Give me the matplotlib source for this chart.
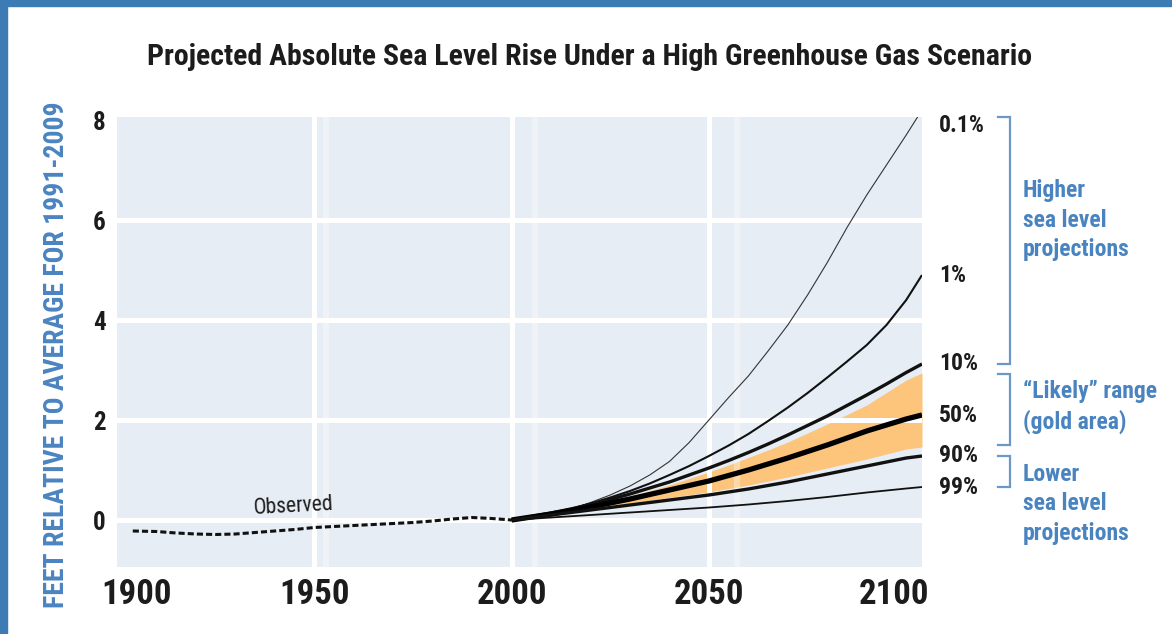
import matplotlib
matplotlib.use("Agg")
import matplotlib.pyplot as plt
import matplotlib.font_manager as fm
from matplotlib.transforms import blended_transform_factory, ScaledTranslation

# ---------------- data ----------------
obs_years = [1904, 1910, 1915, 1920, 1925, 1930, 1935, 1940, 1945, 1950, 1955,
             1960, 1965, 1970, 1975, 1980, 1985, 1990, 1995, 2000]
obs_feet = [-0.22, -0.23, -0.26, -0.28, -0.29, -0.28, -0.25, -0.22, -0.19, -0.15, -0.13,
            -0.11, -0.09, -0.07, -0.05, -0.02, 0.02, 0.05, 0.03, 0.0]

proj_years = [2000, 2005, 2010, 2015, 2020, 2025, 2030, 2035, 2040, 2045, 2050,
              2055, 2060, 2065, 2070, 2075, 2080, 2085, 2090, 2095, 2100, 2104]
p0_1 = [0, 0.05, 0.12, 0.22, 0.35, 0.5, 0.68, 0.9, 1.17, 1.55, 2.0,
        2.45, 2.88, 3.38, 3.9, 4.5, 5.15, 5.85, 6.5, 7.1, 7.7, 8.2]
p1 = [0, 0.06, 0.13, 0.22, 0.33, 0.45, 0.58, 0.73, 0.9, 1.08, 1.28,
      1.49, 1.72, 1.98, 2.25, 2.54, 2.85, 3.17, 3.5, 3.9, 4.4, 4.9]
p10 = [0, 0.07, 0.14, 0.22, 0.31, 0.41, 0.52, 0.64, 0.76, 0.9, 1.04,
       1.19, 1.35, 1.52, 1.7, 1.89, 2.08, 2.29, 2.5, 2.72, 2.95, 3.12]
p50 = [0, 0.06, 0.12, 0.19, 0.26, 0.34, 0.42, 0.51, 0.6, 0.69, 0.78,
       0.89, 1.0, 1.12, 1.24, 1.37, 1.5, 1.64, 1.78, 1.9, 2.02, 2.1]
p90 = [0, 0.05, 0.1, 0.15, 0.2, 0.25, 0.3, 0.35, 0.4, 0.45, 0.5,
       0.56, 0.62, 0.69, 0.76, 0.84, 0.92, 1.0, 1.08, 1.16, 1.24, 1.28]
p99 = [0, 0.025, 0.05, 0.075, 0.1, 0.125, 0.15, 0.175, 0.2, 0.225, 0.25,
       0.28, 0.31, 0.345, 0.38, 0.42, 0.46, 0.505, 0.55, 0.59, 0.63, 0.66]
likely_hi = [0, 0.065, 0.13, 0.21, 0.29, 0.38, 0.48, 0.59, 0.7, 0.83, 0.96,
             1.1, 1.25, 1.4, 1.56, 1.74, 1.92, 2.11, 2.3, 2.55, 2.8, 2.94]
likely_lo = [0, 0.05, 0.1, 0.16, 0.22, 0.28, 0.34, 0.395, 0.45, 0.505, 0.56,
             0.63, 0.7, 0.78, 0.86, 0.95, 1.04, 1.13, 1.22, 1.32, 1.42, 1.46]

series_labels = ["0.1%", "1%", "10%", "50%", "90%", "99%"]
x_ticks = [1900, 1950, 2000, 2050, 2100]
y_ticks = [0, 2, 4, 6, 8]

# ---------------- fonts ----------------
names = {f.name for f in fm.fontManager.ttflist}
FONT = "DejaVu Sans"
for cand in ["Roboto Condensed", "Liberation Sans Narrow", "Open Sans Condensed"]:
    if cand in names:
        FONT = cand
        break
plt.rcParams["font.family"] = [FONT, "DejaVu Sans"]

DARK = "#1c1c1c"
BLUE = "#4a84c0"
BRACKET = "#6b98c6"
BG = "#e7edf4"
GOLD = "#fdc47c"

W, H = 1172, 634
fig = plt.figure(figsize=(W / 100, H / 100), dpi=100)
ax = fig.add_axes([117 / W, 1 - 567 / H, (922 - 117) / W, (567 - 117) / H])
ax.set_facecolor(BG)
ax.set_xlim(1900, 2104)
ax.set_ylim(-0.94, 8.06)
for s in ax.spines.values():
    s.set_visible(False)

# likely range
ax.fill_between(proj_years, likely_lo, likely_hi, color=GOLD, lw=0, zorder=1)

# white grid drawn over the gold band
for yv in y_ticks[:-1]:
    ax.axhline(yv, color="white", lw=3.6, zorder=1.5)
for xv in x_ticks[1:-1]:
    ax.axvline(xv, color="white", lw=3.6, zorder=1.5)
for xv in [1953, 2006, 2057]:
    ax.axvline(xv, color="white", lw=4.5, alpha=0.35, zorder=1.4)

# projections
styles = [(p0_1, 0.8, "#333333"), (p1, 1.5, "#111111"), (p10, 2.4, "#111111"),
          (p50, 3.8, "#000000"), (p90, 2.4, "#111111"), (p99, 1.3, "#111111")]
for vals, lw, col in styles:
    ax.plot(proj_years, vals, color=col, lw=lw, zorder=3,
            solid_capstyle="butt", solid_joinstyle="round")

# observed record
ax.plot(obs_years, obs_feet, color="#111111", lw=2.2, ls=(0, (2.0, 1.0)), zorder=3)
ax.text(1934.5, 0.02, "Observed", fontsize=15.5, color=DARK, rotation=3,
        ha="left", va="bottom", zorder=4)

# ticks
ax.set_xticks(x_ticks)
ax.set_xticklabels([str(v) for v in x_ticks], fontsize=25, fontweight="bold", color=DARK)
ax.set_yticks(y_ticks)
ax.set_yticklabels([str(v) for v in y_ticks], fontsize=18, fontweight="bold", color=DARK)
ax.tick_params(axis="both", length=0)
ax.tick_params(axis="x", pad=8)
ax.tick_params(axis="y", pad=8)
xl = ax.get_xticklabels()
xl[0].set_transform(xl[0].get_transform() + ScaledTranslation(0.2, 0, fig.dpi_scale_trans))
xl[-1].set_transform(xl[-1].get_transform() + ScaledTranslation(-0.12, 0, fig.dpi_scale_trans))

# end-of-line labels
tr = blended_transform_factory(fig.transFigure, ax.transData)
ends = [min(s[0][-1], 7.9) for s in styles]
for lab, yv in zip(series_labels, ends):
    ax.text(939 / W, yv, lab, transform=tr, fontsize=17, fontweight="bold",
            color=DARK, ha="left", va="center", clip_on=False)

# brackets
x0, x1 = 998 / W, 1010 / W
groups = [(min(p0_1[-1], 8.06), p10[-1]),
          (likely_hi[-1] - 0.02, likely_lo[-1] + 0.04),
          (p90[-1], p99[-1])]
for top, bot in groups:
    ax.plot([x0, x1, x1, x0], [top, top, bot, bot], transform=tr, color=BRACKET,
            lw=1.6, clip_on=False, solid_joinstyle="miter")

for ypx, txt in [(220, "Higher\nsea level\nprojections"),
                 (407, "\u201cLikely\u201d range\n(gold area)"),
                 (504, "Lower\nsea level\nprojections")]:
    fig.text(1023 / W, 1 - ypx / H, txt, fontsize=17, fontweight="bold", color=BLUE,
             ha="left", va="center", linespacing=1.35)

# y-axis title
fig.text(57 / W, 1 - 355 / H, "FEET RELATIVE TO AVERAGE FOR 1991-2009", fontsize=20,
         fontweight="bold", color=BLUE, rotation=90, ha="center", va="center")

# chart title
fig.text(590 / W, 1 - 57 / H,
         "Projected Absolute Sea Level Rise Under a High Greenhouse Gas Scenario",
         fontsize=21.5, fontweight="bold", color=DARK, ha="center", va="center")

# frame accents
fig.patches.append(plt.Rectangle((0, 0), 7 / W, 1, transform=fig.transFigure,
                                 color="#3d7bb5", zorder=0))
fig.patches.append(plt.Rectangle((0, 1 - 6 / H), 1, 6 / H, transform=fig.transFigure,
                                 color="#3d7bb5", zorder=0))

fig.savefig("out.png", dpi=100)
